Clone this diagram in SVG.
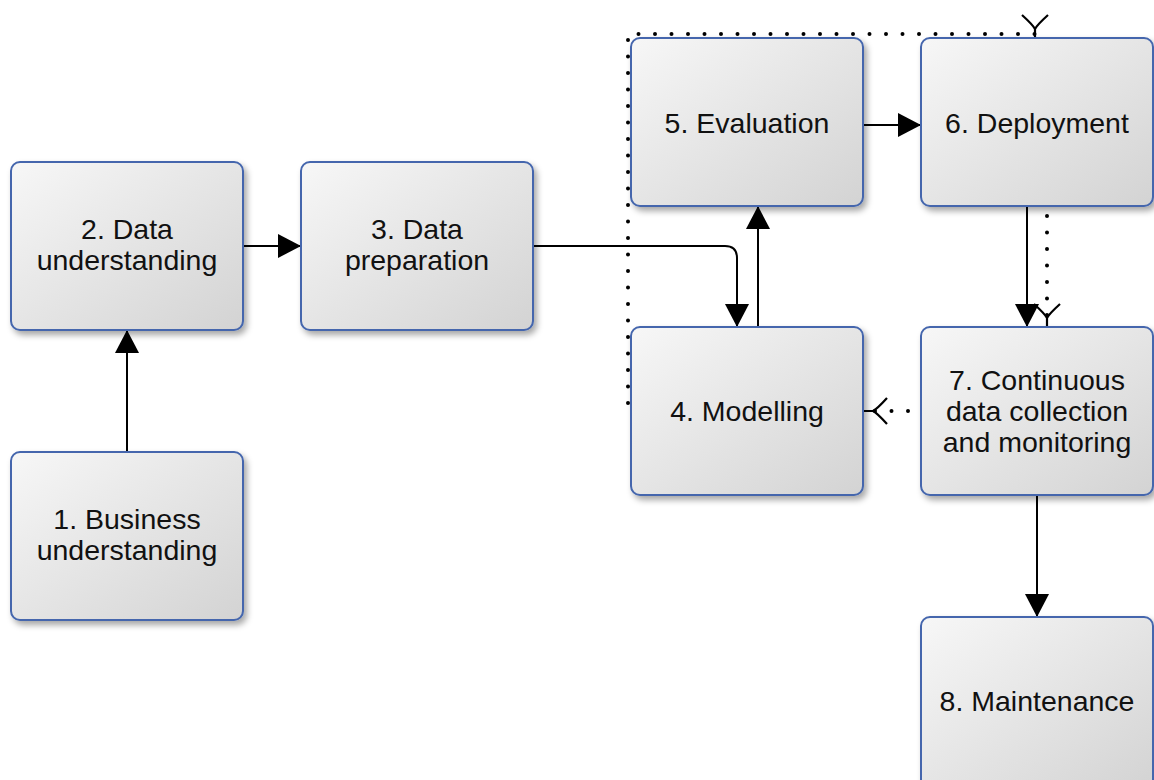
<svg xmlns="http://www.w3.org/2000/svg" width="1154" height="780" viewBox="0 0 1154 780">
<defs>
<linearGradient id="g" x1="0" y1="0" x2="1" y2="1">
<stop offset="0" stop-color="#f7f7f7"/>
<stop offset="1" stop-color="#d3d3d3"/>
</linearGradient>
<filter id="sh" x="-10%" y="-10%" width="125%" height="125%">
<feDropShadow dx="3" dy="4" stdDeviation="3" flood-color="#000" flood-opacity="0.35"/>
</filter>
<marker id="fa" viewBox="0 -12 23 24" refX="23" refY="0" markerWidth="23" markerHeight="24" markerUnits="userSpaceOnUse" orient="auto">
<path d="M0,-12 L23,0 L0,12 z" fill="#000"/>
</marker>
<marker id="oa" viewBox="-25 -15 27 30" refX="0" refY="0" markerWidth="27" markerHeight="30" markerUnits="userSpaceOnUse" orient="auto">
<path d="M-23,-13 Q-13,-2 -9,0 L0,0 M-23,13 Q-13,2 -9,0" fill="none" stroke="#000" stroke-width="2.2" stroke-dasharray="none"/>
</marker>
<style>
.box{fill:url(#g);stroke:#4466ad;stroke-width:2;filter:url(#sh)}
.t{font-family:"Liberation Sans",Arial,sans-serif;font-size:28.5px;fill:#111;text-anchor:middle}
.c{fill:none;stroke:#000;stroke-width:2}
.solid{marker-end:url(#fa)}
.dot{stroke-width:4;stroke-linecap:round;stroke-dasharray:0 16.5;marker-end:url(#oa)}
</style>
</defs>
<g id="connectors">
<path class="c solid" d="M127,452 V330"/>
<path class="c solid" d="M243,246 H301"/>
<path class="c solid" d="M533,246 H725 Q737,246 737,258 V327"/>
<path class="c solid" d="M758,327 V206"/>
<path class="c solid" d="M863,125 H921"/>
<path class="c solid" d="M1027,206 V327"/>
<path class="c solid" d="M1037,495 V617"/>
<path class="c dot" d="M1047,216 V327"/>
<path class="c dot" d="M908,411 H864"/>
<path class="c dot" d="M628,403 V34 H1035 V38"/>
</g>
<g id="n1"><rect class="box" x="11" y="452" width="232" height="168" rx="9"/><text class="t" x="127" y="529">1. Business</text><text class="t" x="127" y="560">understanding</text></g>
<g id="n2"><rect class="box" x="11" y="162" width="232" height="168" rx="9"/><text class="t" x="127" y="239">2. Data</text><text class="t" x="127" y="270">understanding</text></g>
<g id="n3"><rect class="box" x="301" y="162" width="232" height="168" rx="9"/><text class="t" x="417" y="239">3. Data</text><text class="t" x="417" y="270">preparation</text></g>
<g id="n4"><rect class="box" x="631" y="327" width="232" height="168" rx="9"/><text class="t" x="747" y="421">4. Modelling</text></g>
<g id="n5"><rect class="box" x="631" y="38" width="232" height="168" rx="9"/><text class="t" x="747" y="133">5. Evaluation</text></g>
<g id="n6"><rect class="box" x="921" y="38" width="232" height="168" rx="9"/><text class="t" x="1037" y="133">6. Deployment</text></g>
<g id="n7"><rect class="box" x="921" y="327" width="232" height="168" rx="9"/><text class="t" x="1037" y="390">7. Continuous</text><text class="t" x="1037" y="421">data collection</text><text class="t" x="1037" y="452">and monitoring</text></g>
<g id="n8"><rect class="box" x="921" y="617" width="232" height="172" rx="9"/><text class="t" x="1037" y="711">8. Maintenance</text></g>
</svg>
